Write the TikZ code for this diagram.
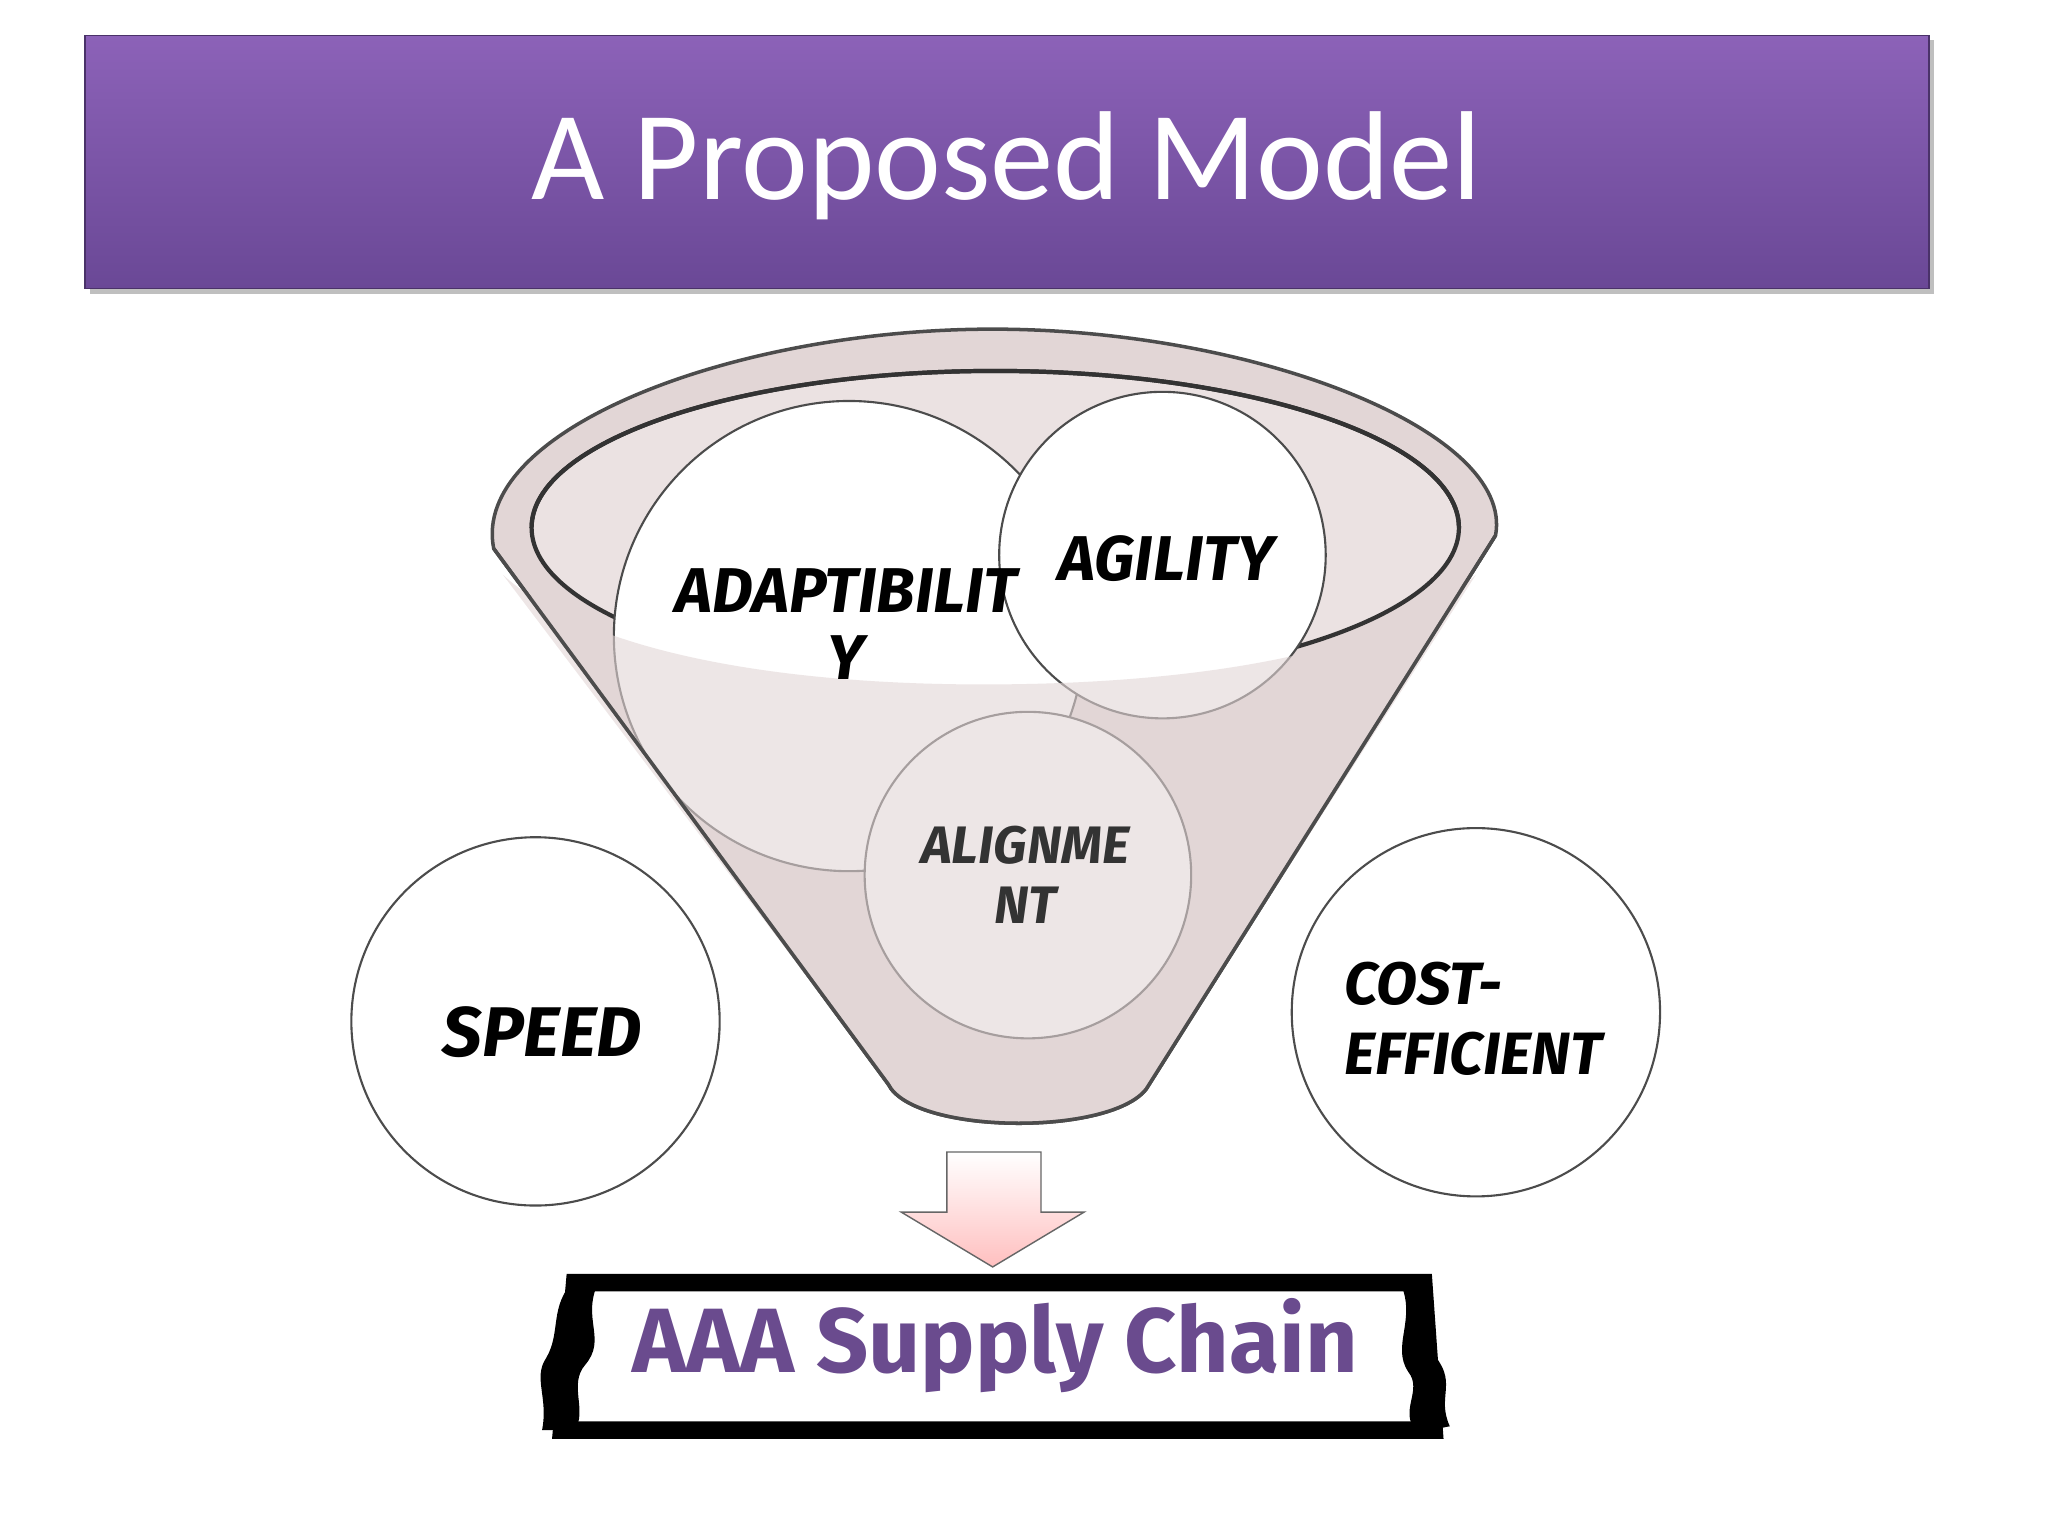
\documentclass[tikz,border=0pt]{standalone}
\usepackage{fontspec}
\setmainfont{Carlito}
\newfontfamily\hand{Fira Sans}
\definecolor{ptop}{HTML}{8C62B8}
\definecolor{pbot}{HTML}{6A4896}
\definecolor{funnel}{HTML}{E2D6D6}
\definecolor{txtp}{HTML}{6A4B8E}
\tikzset{bub/.style={circle,draw=black!70,line width=0.6pt,fill=white},
lab/.style={font=\hand\bfseries\itshape\fontsize{18}{19}\selectfont,align=center}}
\begin{document}
\begin{tikzpicture}[x=0.01306cm,y=-0.01306cm]
\useasboundingbox (0,0) rectangle (1568,1176);
% title
\fill[black!25] (69,31) rectangle (1481,225);
\shade[top color=ptop,bottom color=pbot,draw=pbot!70!black] (65,27) rectangle (1477,221);
\node[text=white,font=\fontsize{36}{40}\selectfont] (title) at (771,127) {A Proposed Model};
% funnel rim & cone
\filldraw[fill=funnel,draw=black!70,line width=1pt] (378,420) .. controls (360,330) and (560,252) .. (760,252) .. controls (960,252) and (1160,330) .. (1145,410) -- (880,830) .. controls (860,870) and (700,870) .. (680,830) -- cycle;
\filldraw[fill=funnel!70,draw=black!80,line width=1.2pt] (762,404) ellipse [x radius=355,y radius=120];
% circles
\node[bub,minimum size=360*0.01306cm] (adapt) at (650,487) {};
\node[bub,minimum size=250*0.01306cm] (agil) at (890,425) {};
\node[bub,minimum size=250*0.01306cm] (align) at (787,670) {};
% front cone overlay
\fill[funnel,opacity=0.6] (385,440) .. controls (450,500) and (600,525) .. (762,524) .. controls (950,523) and (1080,490) .. (1130,440) -- (880,830) .. controls (860,870) and (700,870) .. (680,830) -- cycle;
\draw[black!80,line width=1.2pt] (407,404) arc[start angle=180,end angle=360,x radius=355,y radius=120];
\draw[black!70,line width=1pt] (378,420) -- (680,830) .. controls (700,870) and (860,870) .. (880,830) -- (1145,410);
\node[lab] (tadapt) at (648,478) {ADAPTIBILIT\\Y};
\node[lab] (tagil) at (893,428) {AGILITY};
\node[lab,font=\hand\bfseries\itshape\fontsize{15}{17}\selectfont,text=black!80] (talign) at (785,670) {ALIGNME\\NT};
\node[bub,minimum size=282*0.01306cm] (speed) at (410,782) {};
\node[lab,font=\hand\bfseries\itshape\fontsize{20}{22}\selectfont] at (415,790) {SPEED};
\node[bub,minimum size=282*0.01306cm] (cost) at (1130,775) {};
\node[lab,align=left,font=\hand\bfseries\itshape\fontsize{17}{20}\selectfont] at (1128,780) {COST-\\EFFICIENT};
% arrow
\shade[top color=white,bottom color=red!25,draw=black!60] (725,882) -- (797,882) -- (797,928) -- (830,928) -- (760,970) -- (690,928) -- (725,928) -- cycle;
\coordinate (arr) at (760,926);
% banner
\draw[line width=5pt,fill=white] (440,982) -- (1090,982) -- (1098,1095) -- (430,1095) -- cycle;
\fill[black] (440,980) -- (458,982) .. controls (445,1010) and (465,1025) .. (448,1045) .. controls (435,1060) and (450,1080) .. (440,1095) -- (415,1095) .. controls (420,1070) and (408,1055) .. (418,1040) .. controls (430,1020) and (420,1000) .. cycle;
\fill[black] (1090,978) -- (1072,982) .. controls (1085,1010) and (1065,1030) .. (1078,1050) .. controls (1090,1065) and (1070,1080) .. (1085,1097) -- (1110,1092) .. controls (1100,1070) and (1115,1060) .. (1100,1040) .. controls (1085,1020) and (1105,1000) .. cycle;
\node[text=txtp,font=\hand\bfseries\fontsize{26}{30}\selectfont] (aaa) at (762,1030) {AAA Supply Chain};
\end{tikzpicture}
\end{document}
